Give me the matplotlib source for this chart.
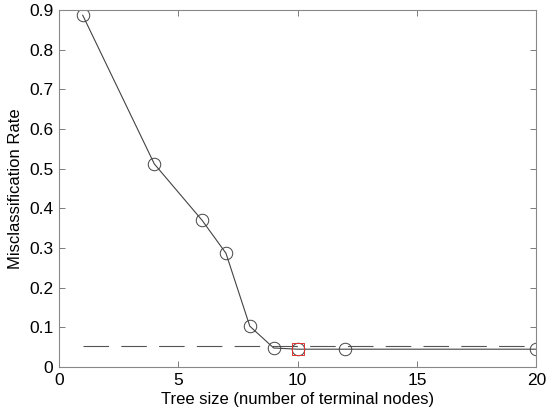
import numpy as np
import matplotlib
matplotlib.use("Agg")
import matplotlib.pyplot as plt

plt.rcParams['font.family'] = ['Liberation Sans', 'DejaVu Sans']

# tree sizes and cross-validated misclassification rate
tree_size = [1, 4, 6, 7, 8, 9, 10, 12, 20]
misclass = [0.887, 0.512, 0.370, 0.287, 0.103, 0.048, 0.045, 0.045, 0.045]
cutoff = 0.052          # min error + 1 std. error
best_size = 10
best_err = 0.045

x_ticks = [0, 5, 10, 15, 20]
y_ticks = [0, 0.1, 0.2, 0.3, 0.4, 0.5, 0.6, 0.7, 0.8, 0.9]

fig = plt.figure(figsize=(5.5, 4.19), dpi=100)
ax = fig.add_axes([0.107, 0.124, 0.868, 0.852])

ax.plot([tree_size[0], tree_size[-1]], [cutoff, cutoff], color='#555555',
        lw=0.8, dashes=(23, 11))
ax.plot(tree_size, misclass, color='#444444', lw=0.8, marker='o', ms=9,
        mfc='none', mec='#444444', mew=0.7)
ax.plot([best_size], [best_err], marker='s', ms=8, mfc='none', mec='#e03030',
        mew=0.7, ls='none')

ax.set_xlim(0, 20)
ax.set_ylim(0, 0.9)
ax.set_xticks(x_ticks)
ax.set_yticks(y_ticks)
ax.set_xticklabels([str(t) for t in x_ticks])
ax.set_yticklabels(['0'] + ['%.1f' % t for t in y_ticks[1:]])
ax.tick_params(direction='in', top=True, right=True, length=4, width=0.6,
               color='#666666', labelsize=12.5, pad=4)
for s in ax.spines.values():
    s.set_color('#888888')
    s.set_linewidth(0.8)

ax.set_xlabel('Tree size (number of terminal nodes)', fontsize=12, labelpad=3)
ax.set_ylabel('Misclassification Rate', fontsize=12, labelpad=4)

fig.savefig('out.png', dpi=100)
